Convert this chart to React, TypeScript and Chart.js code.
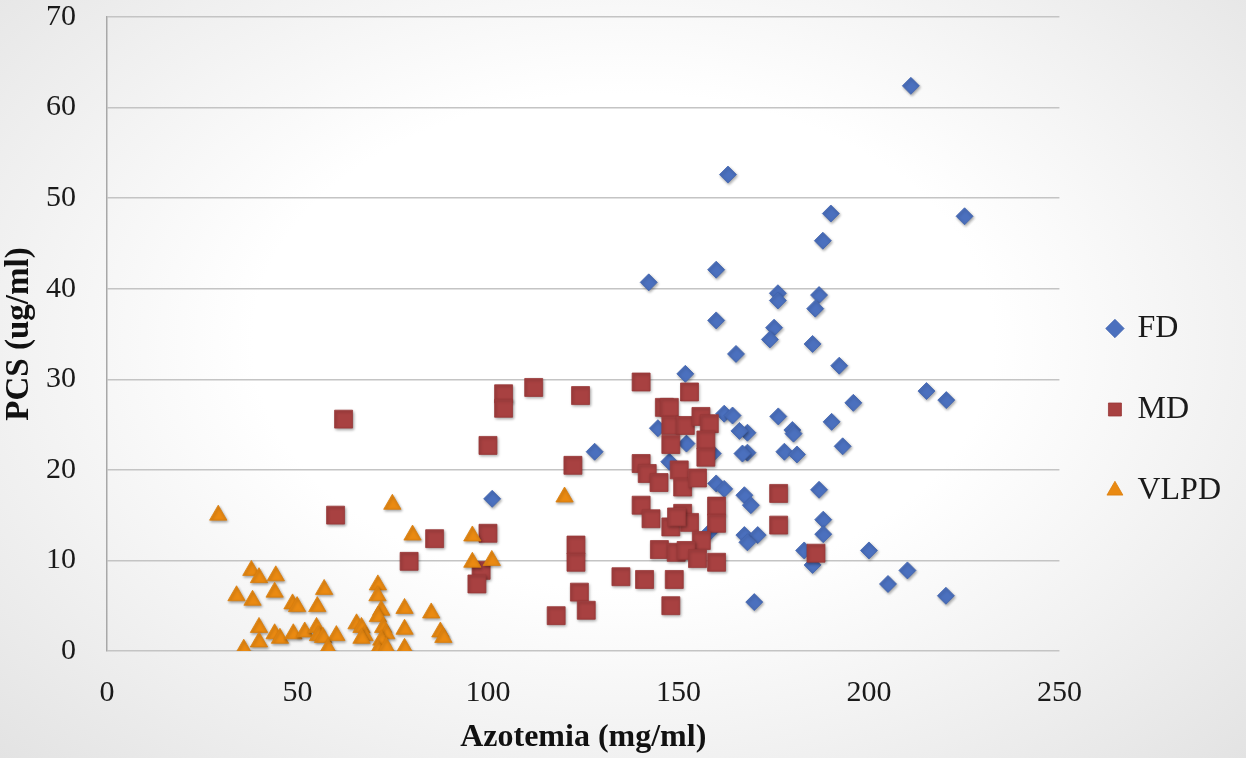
import React, { useEffect, useRef } from 'react';
import { Chart, registerables } from 'chart.js';

Chart.register(...registerables);

const seriesNames = ['FD', 'MD', 'VLPD'];

const fdX = [211, 163, 225.1, 190, 187.9, 142.2, 159.9, 176.1, 176.1, 186.9, 185.9, 159.9, 175.1, 174, 185.2, 165.1, 192.2, 151.8, 215.1, 220.3, 195.9, 176.2, 190.2, 179.9, 180.2, 193.1, 177.8, 181.1, 168.1, 166, 168.1, 166.8, 186.9, 167.3, 169, 188, 188, 167.3, 170.8, 168.1, 183, 200, 185.2, 210.1, 205, 220.2, 169.9, 162, 164.2, 144.6, 152.1, 128, 147.6, 159.9, 162, 158.1, 101.1, 159];
const fdY = [62.4, 52.6, 48.0, 48.3, 45.3, 40.7, 42.1, 39.5, 38.7, 39.3, 37.8, 36.5, 35.7, 34.4, 33.9, 32.8, 31.5, 30.6, 28.7, 27.7, 27.4, 25.9, 25.3, 24.4, 24.0, 22.6, 22.0, 21.7, 24.1, 24.3, 21.9, 21.8, 17.8, 17.2, 16.1, 14.5, 12.9, 12.8, 12.8, 12.0, 11.1, 11.1, 9.5, 8.9, 7.4, 6.1, 5.4, 26.2, 26.0, 24.6, 22.9, 22.0, 20.9, 18.5, 17.9, 13.1, 16.8, 21.8];

const mdX = [62.1, 60, 86, 79.3, 100, 100, 98.2, 97.1, 104.1, 104.1, 112, 124.3, 122.3, 123.1, 123.1, 124, 125.8, 117.9, 134.9, 141.1, 148.9, 148, 140.2, 152.9, 146.3, 147.6, 148, 151.8, 155.9, 158.1, 148, 157.2, 157.2, 140.2, 141.8, 144.9, 150.2, 151.1, 155, 140.2, 142.8, 148, 151.1, 152.9, 160, 160, 176.3, 176.3, 156, 145, 149.4, 152, 155, 160, 186.1, 149.5];
const mdY = [25.6, 15.0, 12.4, 9.9, 22.7, 13.0, 8.9, 7.4, 28.4, 26.8, 29.1, 28.2, 20.5, 11.7, 9.8, 6.5, 4.5, 3.9, 8.2, 7.9, 7.9, 5.0, 29.7, 28.6, 26.9, 26.9, 24.9, 24.9, 25.9, 25.1, 22.8, 23.3, 21.4, 20.7, 19.6, 18.6, 20.0, 18.1, 19.1, 16.1, 14.6, 13.7, 15.2, 14.2, 16.0, 14.1, 17.4, 13.9, 12.2, 11.2, 10.9, 11.1, 10.2, 9.8, 10.8, 14.8];

const vlpdX = [29.2, 74.9, 80.2, 95.9, 95.9, 101, 120.1, 37.9, 39.9, 44.3, 44, 34, 38.2, 57, 48.7, 49.9, 55.2, 71.1, 71, 72, 71.1, 78.1, 85.1, 39.9, 39.9, 44, 45.4, 48.9, 51.9, 55, 55.4, 56.7, 60.2, 58, 35.9, 65.5, 66.8, 67.6, 66.8, 72.5, 73.3, 72, 71.1, 73.3, 78.1, 78.1, 87.5, 88.3];
const vlpdY = [15.0, 16.2, 12.8, 12.7, 9.8, 10.0, 17.0, 8.9, 8.1, 8.3, 6.5, 6.1, 5.6, 6.8, 5.2, 4.9, 4.9, 7.3, 6.1, 4.5, 3.8, 4.7, 4.2, 2.6, 1.0, 1.9, 1.4, 1.9, 2.1, 2.6, 1.7, 1.5, 1.7, 0.3, 0.2, 3.0, 2.6, 1.7, 1.4, 2.6, 1.9, 1.2, 0.1, 0.4, 2.4, 0.3, 2.1, 1.5];

const xTicks = [0, 50, 100, 150, 200, 250];
const yTicks = [0, 10, 20, 30, 40, 50, 60, 70];

const FONT = "'Liberation Serif', 'Times New Roman', serif";

export default function App() {
  const ref = useRef<HTMLCanvasElement | null>(null);

  useEffect(() => {
    if (!ref.current) return;
    const toPts = (xs: number[], ys: number[]) => xs.map((x, i) => ({ x, y: ys[i] }));

    const shadow = {
      id: 'markerShadow',
      beforeDatasetsDraw(chart: any) {
        const c = chart.ctx;
        c.save();
        c.shadowColor = 'rgba(0,0,0,0.35)';
        c.shadowBlur = 3;
        c.shadowOffsetX = 1;
        c.shadowOffsetY = 1.5;
      },
      afterDatasetsDraw(chart: any) {
        chart.ctx.restore();
      },
    };

    const chart = new Chart(ref.current, {
      type: 'scatter',
      data: {
        datasets: [
          {
            label: seriesNames[0],
            data: toPts(fdX, fdY),
            pointStyle: 'rectRot',
            pointRadius: 8.5,
            backgroundColor: '#4B70BE',
            borderColor: '#4063AE',
            borderWidth: 0.8,
            order: 2,
          },
          {
            label: seriesNames[1],
            data: toPts(mdX, mdY),
            pointStyle: 'rect',
            pointRadius: 12.7,
            backgroundColor: '#A84141',
            borderColor: '#983838',
            borderWidth: 0.8,
            order: 1,
          },
          {
            label: seriesNames[2],
            data: toPts(vlpdX, vlpdY),
            pointStyle: 'triangle',
            pointRadius: 10,
            backgroundColor: '#EA8A12',
            borderColor: '#D97D0C',
            borderWidth: 0.8,
            order: 0,
          },
        ],
      },
      plugins: [shadow],
      options: {
        responsive: false,
        animation: false,
        events: [],
        layout: { padding: { top: 17, left: 0, right: 15, bottom: 0 } },
        scales: {
          x: {
            type: 'linear',
            min: 0,
            max: 250,
            afterBuildTicks: (s: any) => {
              s.ticks = xTicks.map((v) => ({ value: v }));
            },
            afterFit: (s: any) => {
              s.height = 107;
            },
            grid: { display: false, drawTicks: false },
            border: { display: false },
            ticks: {
              padding: 27,
              color: '#1a1a1a',
              font: { family: FONT, size: 30, lineHeight: 1.0 },
              maxRotation: 0,
            },
            title: {
              display: true,
              text: 'Azotemia (mg/ml)',
              color: '#111',
              font: { family: FONT, size: 32, weight: 'bold', lineHeight: 1.2 },
              padding: { top: 0, bottom: 1 },
            },
          },
          y: {
            type: 'linear',
            min: 0,
            max: 70,
            afterBuildTicks: (s: any) => {
              s.ticks = yTicks.map((v) => ({ value: v }));
            },
            afterFit: (s: any) => {
              s.width = 107;
              s.paddingTop = 15;
              s.paddingBottom = 15;
            },
            grid: { color: '#c4c4c4', lineWidth: 1.5, drawTicks: false },
            border: { display: true, color: '#a8a8a8', width: 1.5 },
            ticks: {
              padding: 31,
              color: '#1a1a1a',
              font: { family: FONT, size: 30, lineHeight: 1.0 },
            },
            title: {
              display: true,
              text: 'PCS (ug/ml)',
              color: '#111',
              font: { family: FONT, size: 33, weight: 'bold', lineHeight: 1.2 },
              padding: { top: 0, bottom: 0 },
            },
          },
        },
        plugins: {
          tooltip: { enabled: false },
          legend: {
            position: 'right',
            maxWidth: 186,
            title: {
              display: true,
              text: '',
              font: { size: 10, lineHeight: 1 },
              padding: { top: 34, bottom: 0 },
            },
            labels: {
              usePointStyle: true,
              boxWidth: 13,
              boxHeight: 13,
              padding: 49,
              color: '#1a1a1a',
              font: { family: FONT, size: 32 },
              sort: (a: any, b: any) => a.datasetIndex - b.datasetIndex,
            },
          },
        },
      } as any,
    });

    return () => chart.destroy();
  }, []);

  return (
    <div
      style={{
        position: 'absolute',
        left: 0,
        top: 0,
        width: 1246,
        height: 758,
        background: 'radial-gradient(ellipse at 50% 45%, #ffffff 42%, #e3e3e3 100%)',
      }}
    >
      <canvas ref={ref} width={1246} height={758} style={{ display: 'block' }} />
    </div>
  );
}
